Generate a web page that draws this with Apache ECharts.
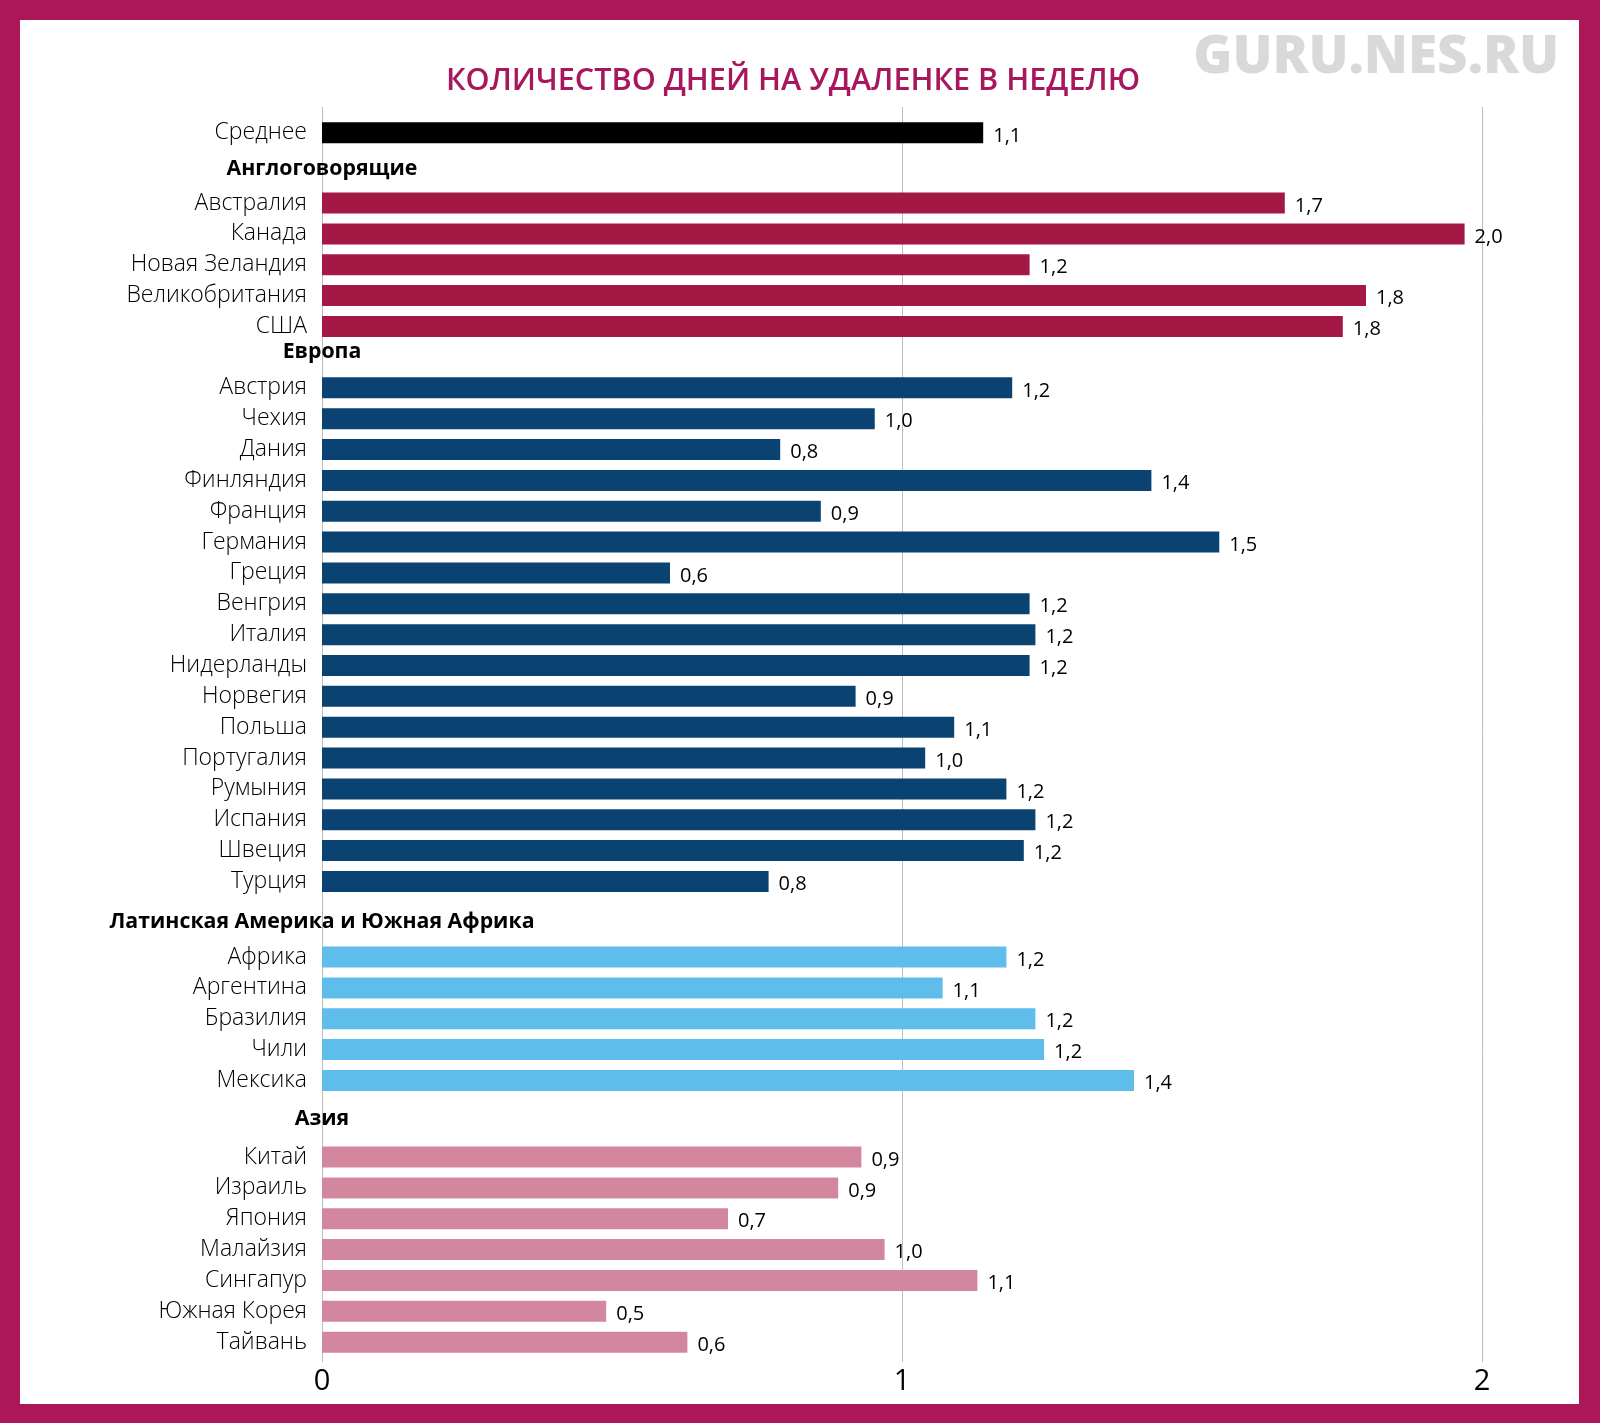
<!DOCTYPE html>
<html><head><meta charset="utf-8">
<script src="https://cdn.jsdelivr.net/npm/echarts@6/dist/echarts.min.js"></script>
<style>html,body{margin:0;padding:0;background:#fff}#c{width:1600px;height:1423px}</style>
</head><body><div id="c"></div>
<script>
// ---- data ----
const chartTitle = 'КОЛИЧЕСТВО ДНЕЙ НА УДАЛЕНКЕ В НЕДЕЛЮ';
const watermark = 'GURU.NES.RU';

const avgHeader = '';
const avgCategories = ['Среднее'];
const avgValues = [1.14];

const angloHeader = 'Англоговорящие';
const angloCategories = ['Австралия', 'Канада', 'Новая Зеландия', 'Великобритания', 'США'];
const angloValues = [1.66, 1.97, 1.22, 1.80, 1.76];

const europeHeader = 'Европа';
const europeCategories = ['Австрия', 'Чехия', 'Дания', 'Финляндия', 'Франция', 'Германия', 'Греция', 'Венгрия', 'Италия', 'Нидерланды', 'Норвегия', 'Польша', 'Португалия', 'Румыния', 'Испания', 'Швеция', 'Турция'];
const europeValues = [1.19, 0.953, 0.79, 1.43, 0.86, 1.547, 0.60, 1.22, 1.23, 1.22, 0.92, 1.09, 1.04, 1.18, 1.23, 1.21, 0.77];

const latamHeader = 'Латинская Америка и Южная Африка';
const latamCategories = ['Африка', 'Аргентина', 'Бразилия', 'Чили', 'Мексика'];
const latamValues = [1.18, 1.07, 1.23, 1.245, 1.40];

const asiaHeader = 'Азия';
const asiaCategories = ['Китай', 'Израиль', 'Япония', 'Малайзия', 'Сингапур', 'Южная Корея', 'Тайвань'];
const asiaValues = [0.93, 0.89, 0.70, 0.97, 1.13, 0.49, 0.63];

const xTicks = [0, 1, 2];

// ---- layout / style ----
const FONT = '"Open Sans", "Noto Sans", sans-serif';
const rowH = 30.85;
const groupTops = [117.4, 187.6, 372.4, 941.6, 1141.6];
const headerGaps = [0, 18.2, 20.4, 20.1, 22.2];
const colors = ['#000000', '#A31844', '#0A4372', '#5EBDEB', '#D3879E'];

const groups = [
  { header: avgHeader, cats: avgCategories, vals: avgValues },
  { header: angloHeader, cats: angloCategories, vals: angloValues },
  { header: europeHeader, cats: europeCategories, vals: europeValues },
  { header: latamHeader, cats: latamCategories, vals: latamValues },
  { header: asiaHeader, cats: asiaCategories, vals: asiaValues }
];

const GL = 322, GR = 118;
const grids = [{ left: GL, right: GR, top: 107, bottom: 61 }];
const xAxes = [{
  gridIndex: 0, type: 'value', min: xTicks[0], max: xTicks[xTicks.length - 1], interval: 1,
  axisLine: { show: false }, axisTick: { show: false },
  splitLine: { show: true, lineStyle: { color: '#BDBDBD', width: 1 } },
  axisLabel: { fontSize: 29, color: '#000', margin: 5, fontFamily: FONT }
}];
const yAxes = [{ gridIndex: 0, type: 'value', show: false }];
const series = [];

groups.forEach((g, i) => {
  grids.push({ left: GL, right: GR, top: groupTops[i], height: g.cats.length * rowH });
  xAxes.push({ gridIndex: i + 1, type: 'value', min: 0, max: 2, show: false });
  yAxes.push({
    gridIndex: i + 1, type: 'category', inverse: true, data: g.cats,
    axisLine: { show: false }, axisTick: { show: false }, splitLine: { show: false },
    axisLabel: { fontSize: 23, fontWeight: 300, color: '#000', margin: 15, fontFamily: FONT },
    name: g.header, nameLocation: 'start', nameGap: headerGaps[i],
    nameTextStyle: { fontSize: 21.3, fontWeight: 'bold', color: '#000', fontFamily: FONT, verticalAlign: 'middle', align: 'center' }
  });
  series.push({
    type: 'bar', xAxisIndex: i + 1, yAxisIndex: i + 1, data: g.vals, barWidth: 21,
    itemStyle: { color: colors[i] }, silent: true, animation: false,
    label: {
      show: true, position: 'right', distance: 10, offset: [0, 3],
      fontSize: 20, color: '#000', fontFamily: FONT,
      formatter: p => p.value.toFixed(1).replace('.', ',')
    }
  });
});

const chart = echarts.init(document.getElementById('c'), null, { renderer: 'canvas' });
chart.setOption({
  animation: false,
  backgroundColor: '#AD1657',
  grid: grids, xAxis: xAxes, yAxis: yAxes, series: series,
  graphic: [
    { type: 'rect', z: -100, silent: true, shape: { x: 20, y: 20, width: 1559, height: 1384 }, style: { fill: '#ffffff' } },
    { type: 'text', x: 1559, y: 58, silent: true, style: { text: watermark, fill: '#D9D9D9', font: '800 53px ' + FONT, align: 'right', verticalAlign: 'middle' } },
    { type: 'text', x: 793, y: 81, silent: true, style: { text: chartTitle, fill: '#A8175B', font: '600 30.6px ' + FONT, align: 'center', verticalAlign: 'middle' } }
  ]
});
</script></body></html>
